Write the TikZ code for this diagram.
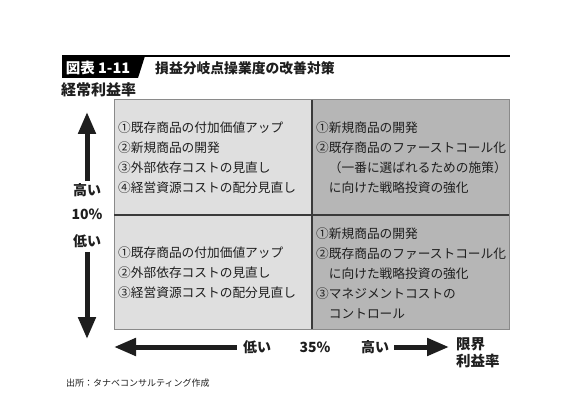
\documentclass[tikz,border=0pt]{standalone}
\usepackage{fontspec}
\setmainfont{Noto Sans CJK JP}
\usetikzlibrary{arrows.meta}
\definecolor{lightcell}{HTML}{DFDFDF}
\definecolor{darkcell}{HTML}{B6B6B6}
\definecolor{outline}{HTML}{8A8A8A}
\definecolor{divider}{HTML}{3A3A3A}
\definecolor{txt}{HTML}{1E1E1E}
\begin{document}
\begin{tikzpicture}[x=1pt,y=-1pt,
  celltext/.style={anchor=west,align=left,inner sep=0pt,text=txt,font=\fontsize{12.7}{20}\selectfont},
  axislabel/.style={inner sep=0pt,text=txt,font=\bfseries\fontsize{14}{17}\selectfont},
  axisarrow/.style={line width=5pt,draw=txt,-{Triangle[length=22pt,width=17pt]}}
]
\useasboundingbox (0,0) rectangle (567,406);
% title
\draw[line width=1.5pt] (62,56) -- (510,56);
\fill[black] (62,56) -- (145,56) -- (138,78) -- (62,78) -- cycle;
\node[inner sep=0pt,text=white,font=\bfseries\fontsize{14.5}{16}\selectfont] (tab) at (98,67.5) {図表 1-11};
\node[anchor=west,inner sep=0pt,text=txt,font=\bfseries\fontsize{13.8}{16}\selectfont] (title) at (155,68) {損益分岐点操業度の改善対策};
\node[anchor=west,inner sep=0pt,text=txt,font=\bfseries\fontsize{15}{18}\selectfont] (ylab) at (61,90) {経常利益率};
% cells
\fill[lightcell] (114,100) rectangle (312,329);
\fill[darkcell] (312,100) rectangle (509,329);
\draw[outline,line width=1pt] (114,100) rectangle (509,329);
\draw[divider,line width=1.4pt] (312,100) -- (312,329);
\draw[divider,line width=1.4pt] (114,215) -- (509,215);
% cell texts
\node[celltext] (tl) at (118,157.5) {①既存商品の付加価値アップ\\②新規商品の開発\\③外部依存コストの見直し\\④経営資源コストの配分見直し};
\node[celltext] (tr) at (316,158) {①新規商品の開発\\②既存商品のファーストコール化\\\hspace*{1em}（一番に選ばれるための施策）\\\hspace*{1em}に向けた戦略投資の強化};
\node[celltext] (bl) at (118,273) {①既存商品の付加価値アップ\\②外部依存コストの見直し\\③経営資源コストの配分見直し};
\node[celltext] (br) at (316,273) {①新規商品の開発\\②既存商品のファーストコール化\\\hspace*{1em}に向けた戦略投資の強化\\③マネジメントコストの\\\hspace*{1em}コントロール};
% vertical axis
\node[axislabel] (hi) at (87,190) {高い};
\node[axislabel] (ten) at (87,214) {10\%};
\node[axislabel] (lo) at (87,241) {低い};
\coordinate (vtop) at (87,112);
\coordinate (vbot) at (87,339);
\draw[axisarrow] (hi.north) ++(0,-2) -- (vtop);
\draw[axisarrow] (lo.south) ++(0,4) -- (vbot);
% horizontal axis
\node[axislabel] (xlo) at (257,347) {低い};
\node[axislabel] (x35) at (315,347) {35\%};
\node[axislabel] (xhi) at (375,347) {高い};
\node[anchor=north west,align=left,inner sep=0pt,text=txt,font=\bfseries\fontsize{14.5}{17}\selectfont] (xlab) at (456,337) {限界\\利益率};
\coordinate (hleft) at (114,347);
\coordinate (hright) at (449,347);
\draw[axisarrow] (xlo.west) ++(-6,0) -- (hleft);
\draw[axisarrow] (xhi.east) ++(5,0) -- (hright);
% source
\node[anchor=west,inner sep=0pt,text=txt,font=\fontsize{9}{11}\selectfont] (src) at (66,383) {出所：タナベコンサルティング作成};
\end{tikzpicture}
\end{document}
